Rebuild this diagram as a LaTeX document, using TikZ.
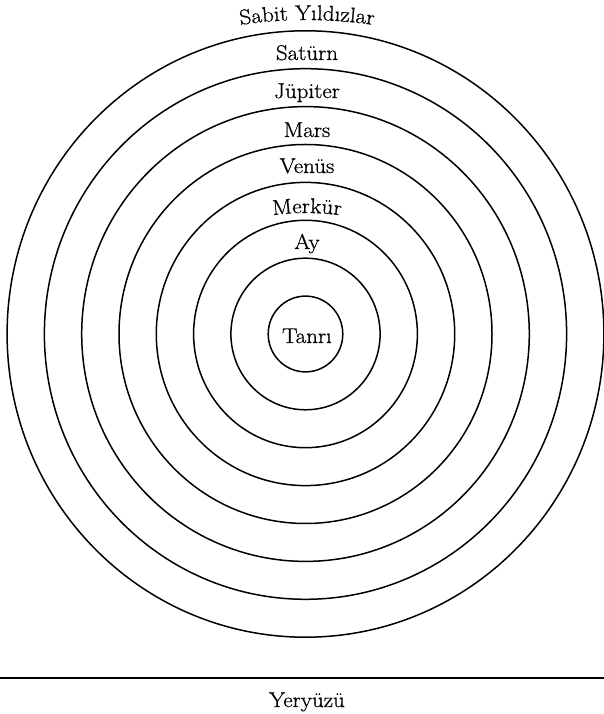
\documentclass[tikz,border=0pt]{standalone}
\usepackage{fontspec}
\setmainfont{Latin Modern Roman}[FakeStretch=1.08, FakeBold=0.8]
\usetikzlibrary{decorations.text}
\newcommand\lblfont{\fontsize{21.3}{25}\selectfont}
\begin{document}
\begin{tikzpicture}[x=1pt,y=1pt,
  ring/.style={line width=1.5pt},
  ground/.style={line width=1.8pt},
  lbl/.style={font=\lblfont, anchor=base, inner sep=0pt}]
\useasboundingbox (0,0) rectangle (604,714);
\coordinate (C) at (305.5,380);
\foreach \k in {1,...,8}
  \draw[ring] (C) ellipse[x radius={37.3*\k}, y radius={37.9*\k}];
% arched labels
\coordinate (SYc) at (307,244);
\path[decorate, decoration={text along path, text align=center,
  text={|\lblfont|Sabit Yıldızlar}}]
  (SYc) ++(110:450) arc[start angle=110, end angle=70, radius=450];
\coordinate (MKc) at (307,251);
\path[decorate, decoration={text along path, text align=center,
  text={|\lblfont|Merkür}}]
  (MKc) ++(110:250) arc[start angle=110, end angle=70, radius=250];
% straight labels
\node[lbl] (saturn) at (307,654) {Satürn};
\node[lbl] (jupiter) at (307,616) {Jüpiter};
\node[lbl] (mars) at (307,577) {Mars};
\node[lbl] (venus) at (307,541) {Venüs};
\node[lbl] (ay) at (307,465) {Ay};
\node[lbl] (tanri) at (307,371) {Tanrı};
% ground
\coordinate (GL) at (0,36);
\coordinate (GR) at (604,36);
\draw[ground] (GL) -- (GR);
\node[lbl] (yer) at (307,7) {Yeryüzü};
\end{tikzpicture}
\end{document}
